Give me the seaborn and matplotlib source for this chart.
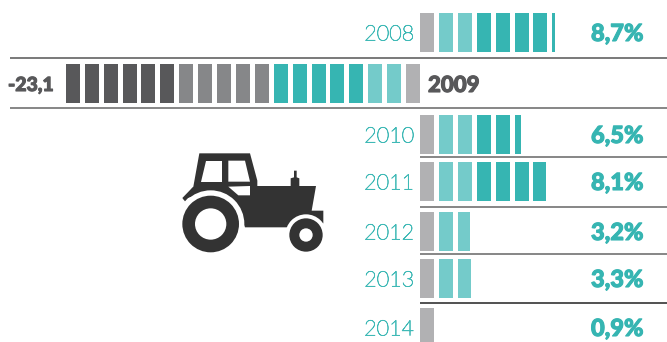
import matplotlib
matplotlib.use("Agg")
import matplotlib.pyplot as plt
import matplotlib.patheffects as pe
from matplotlib.patches import Circle, Polygon
import seaborn as sns

# Annual change, in percent
years = ["2008", "2009", "2010", "2011", "2012", "2013", "2014"]
values = [8.7, -23.1, 6.5, 8.1, 3.2, 3.3, 0.9]
value_labels = ["8,7%", "-23,1", "6,5%", "8,1%", "3,2%", "3,3%", "0,9%"]

# Page layout, in pixels
FIG_W, FIG_H = 667, 342
ZERO_X = 420
PX_PER_UNIT = 15.54
SEG_W, SEG_PITCH = 14, 18.9
ROW_CENTRES = [32.5, 83.5, 134.5, 181.5, 231.5, 278.5, 327.5]
BAR_H = 39

GRAY = "#B1B1B3"
LIGHT = "#74CBCA"
TEAL = "#36B5B2"
MID = "#868789"
DARK = "#58585A"
TEXT_TEAL = "#3FB9B6"


def segment_colour(i):
    if i == 0:
        return GRAY
    if i <= 2:
        return LIGHT
    if i <= 7:
        return TEAL
    if i <= 12:
        return MID
    return DARK


sns.set_theme(style="white")
plt.rcParams["font.family"] = ["Lato", "DejaVu Sans"]

fig = plt.figure(figsize=(FIG_W / 100, FIG_H / 100), dpi=100)
ax = fig.add_axes([0, 0, 1, 1])

# Each bar is cut into evenly spaced blocks, the last one trimmed to the value
for value, centre in zip(values, ROW_CENTRES):
    length = abs(value) * PX_PER_UNIT
    i = 0
    while i * SEG_PITCH < length:
        start = i * SEG_PITCH
        width = min(SEG_W, length - start)
        left = ZERO_X + start if value > 0 else ZERO_X - start - width
        sns.barplot(x=[width], y=[centre], orient="y", native_scale=True,
                    left=left, width=BAR_H, color=segment_colour(i),
                    saturation=1, linewidth=0, ax=ax)
        i += 1

ax.set_xlim(0, FIG_W)
ax.set_ylim(FIG_H, 0)
ax.axis("off")

# Row separators
for y, x0, colour in [(58.3, 10, "#555555"), (107.7, 10, "#666666"),
                      (157.3, 420, "#666666"), (206.7, 420, "#666666"),
                      (254, 420, "#666666"), (303, 420, "#222222")]:
    ax.plot([x0, FIG_W], [y, y], color=colour, lw=1.1, solid_capstyle="butt")


# The heavy labels get a thin outline of their own colour to thicken the strokes
def thick(colour, amount):
    return [pe.withStroke(linewidth=amount, foreground=colour)]


# Year and value labels
for year, label, value, centre in zip(years, value_labels, values, ROW_CENTRES):
    if value > 0:
        ax.text(414, centre + 2, year, ha="right", va="center", fontsize=15.5,
                color=TEXT_TEAL, fontweight="light",
                path_effects=thick(TEXT_TEAL, 0.5))
        ax.text(591, centre + 1, label, ha="left", va="center", fontsize=17,
                color=TEAL, fontweight="black", path_effects=thick(TEAL, 0.8))
    else:
        ax.text(428, centre + 2, year, ha="left", va="center", fontsize=16,
                color=DARK, fontweight="black", path_effects=thick(DARK, 0.8))
        ax.text(8, centre + 2, label, ha="left", va="center", fontsize=14,
                color=DARK, fontweight="black", path_effects=thick(DARK, 0.8))


# Tractor icon, outlined on a 3x grid with its origin at (170, 140)
def icon(px, py):
    return 170 + px / 3, 140 + py / 3


ICON = "#333333"


def shape(points, colour, z):
    ax.add_patch(Polygon([icon(*p) for p in points], closed=True, fc=colour,
                         ec="none", zorder=z))


def disc(cx, cy, r, colour, z):
    ax.add_patch(Circle(icon(cx, cy), r / 3, fc=colour, ec="none", zorder=z))


shape([(70, 140), (88, 40), (240, 40), (262, 122), (262, 138), (362, 138),
       (362, 115), (372, 112), (372, 92), (380, 92), (380, 112), (388, 115),
       (388, 138), (438, 138), (425, 212), (460, 212), (460, 250), (400, 262),
       (225, 262), (200, 200), (100, 160), (40, 178), (70, 140)], ICON, 3)
shape([(37, 174), (68, 142), (76, 150), (45, 184)], ICON, 3)
shape([(108, 62), (155, 62), (155, 125), (92, 125)], "white", 4)
shape([(175, 62), (225, 62), (240, 125), (175, 125)], "white", 4)
shape([(175, 140), (240, 138), (240, 166), (205, 166)], "white", 4)
disc(122, 252, 101, "white", 4)
disc(408, 285, 62, "white", 4)
disc(122, 252, 85, ICON, 5)
disc(122, 252, 47, "white", 6)
disc(408, 285, 50, ICON, 5)
disc(408, 285, 20, "white", 6)

fig.savefig("out.png", dpi=100, facecolor="white")
